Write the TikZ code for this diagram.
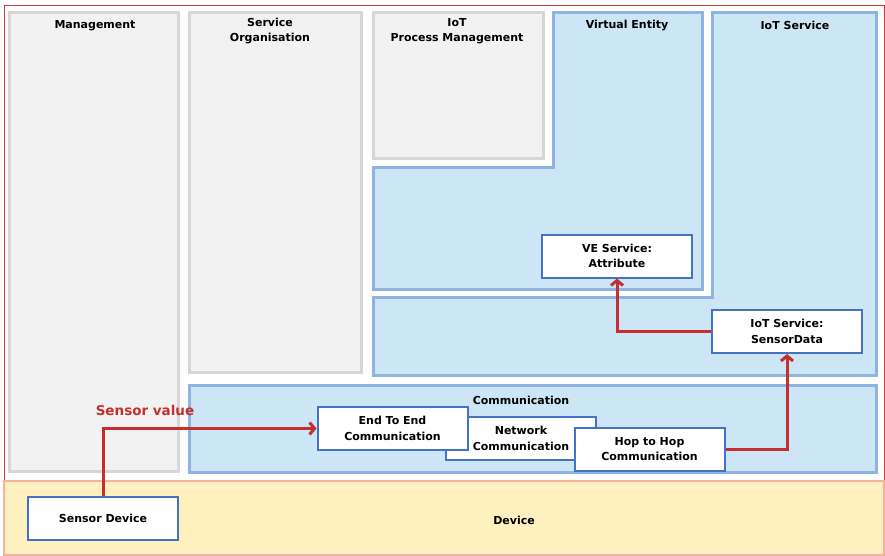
\documentclass[tikz,border=0pt]{standalone}
\usepackage{xcolor,tikz,fontspec}
\setmainfont{DejaVu Sans}
\usetikzlibrary{arrows.meta,positioning,calc}
\definecolor{frame}{RGB}{200,60,60}
\definecolor{greyfill}{RGB}{242,242,242}
\definecolor{greyline}{RGB}{214,214,214}
\definecolor{skyfill}{RGB}{204,230,245}
\definecolor{skyline}{RGB}{141,180,226}
\definecolor{boxline}{RGB}{68,114,196}
\definecolor{sand}{RGB}{255,240,192}
\definecolor{salmon}{RGB}{244,177,160}
\definecolor{flowred}{RGB}{196,48,48}
\tikzset{
  grey/.style={draw=greyline,fill=greyfill,line width=3pt},
  sky/.style={draw=skyline,fill=skyfill,line width=3pt},
  title/.style={font=\bfseries\fontsize{11}{15}\selectfont,align=center,text=black},
  box/.style={draw=boxline,fill=white,line width=2pt,minimum width=150pt,minimum height=43pt,
    inner sep=0pt,align=center,font=\bfseries\fontsize{11}{15.5}\selectfont,text=black},
  flow/.style={draw=flowred,line width=3pt,-{Straight Barb[length=5pt,width=12pt,line width=3pt]}}
}
\begin{document}
\begin{tikzpicture}[x=1pt,y=-1pt]
  \useasboundingbox (0,0) rectangle (885,556);
  \draw[frame,line width=1pt] (4,6) rectangle (884,555);

  % layers
  \draw[grey] (9,13) rectangle (178,471);
  \draw[grey] (189,13) rectangle (361,372);
  \draw[grey] (373,13) rectangle (543,159);
  \draw[sky] (553,13) -- (702,13) -- (702,289) -- (373,289) -- (373,168) -- (553,168) -- cycle;
  \draw[sky] (712,13) -- (876,13) -- (876,375) -- (373,375) -- (373,297) -- (712,297) -- cycle;
  \draw[sky] (189,385) rectangle (876,472);
  \draw[draw=salmon,fill=sand,line width=2pt] (4,481) rectangle (884,555);

  \node[title] (tman) at (95,26) {Management};
  \node[title] (tso) at (270,31.5) {Service\\Organisation};
  \node[title] (tpm) at (457,31.5) {IoT\\Process Management};
  \node[title] (tve) at (627,26) {Virtual Entity};
  \node[title] (tis) at (795,25) {IoT Service};
  \node[title] (tcom) at (521,400) {Communication};
  \node[title] (tdev) at (514,520) {Device};

  % functional components
  \node[box] (ve) at (617,256) {VE Service:\\Attribute};
  \node[box] (iotsd) at (787,331.5) {IoT Service:\\SensorData};
  \node[box] (sensor) at (103,518.5) {Sensor Device};
  \node[box] (net) at (521,438.5) {Network\\Communication};
  \node[box] (e2e) at (392.5,428.5) {End To End\\Communication};
  \node[box] (hop) at (649.5,449) {Hop to Hop\\Communication};

  \draw[flow] (sensor.north) |- (e2e.west);
  \draw[flow] (hop.east) -| (iotsd.south);
  \draw[flow] (iotsd.west) -| (ve.south);
  \node[font=\bfseries\fontsize{13.5}{15}\selectfont,text=flowred] (sv) at (145,410) {Sensor value};
\end{tikzpicture}
\end{document}
